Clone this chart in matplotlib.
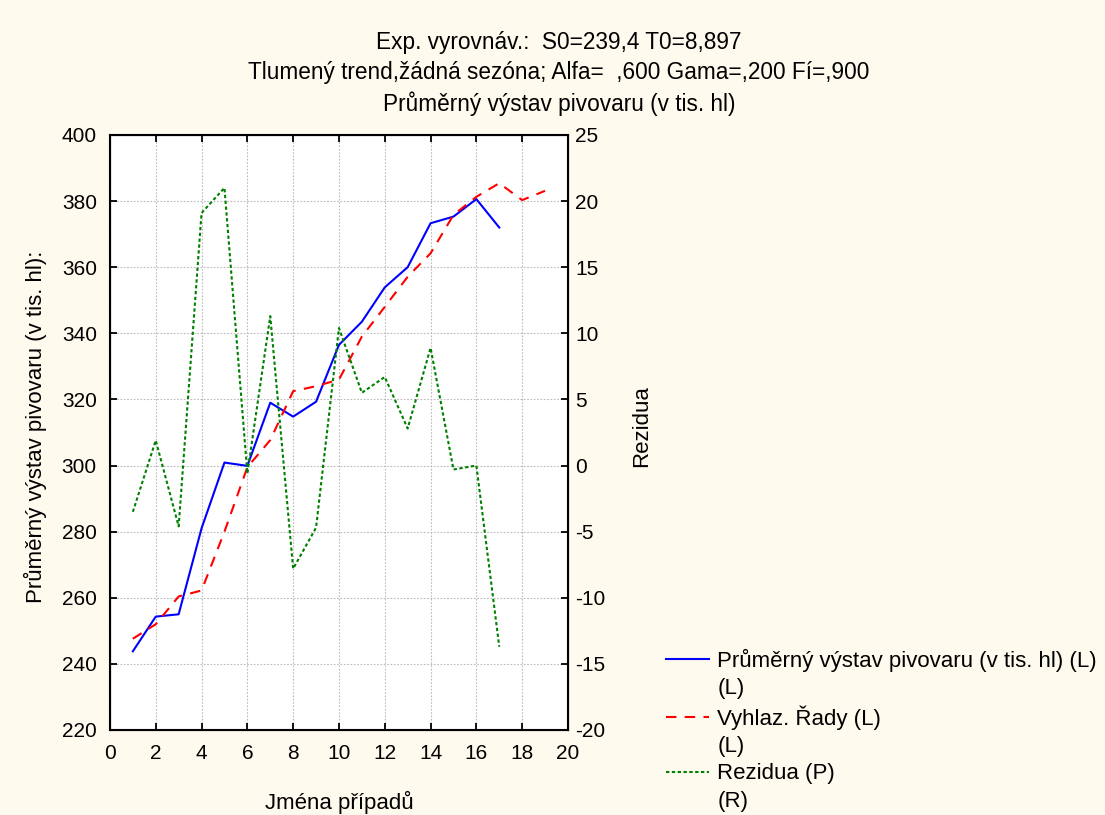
import matplotlib
matplotlib.use("Agg")
import matplotlib.pyplot as plt
from matplotlib.lines import Line2D

plt.rcParams['font.family'] = ['Liberation Sans', 'DejaVu Sans']
plt.rcParams['font.size'] = 16
plt.rcParams['axes.unicode_minus'] = False

# case numbers
cases = list(range(1, 20))

# observed series (left axis), cases 1..17
observed = [243.8, 254.3, 255.0, 281.0, 300.9, 299.9, 319.0, 314.8, 319.3,
            336.5, 343.5, 353.9, 360.0, 373.3, 375.3, 380.6, 372.0]

# smoothed series (left axis), cases 1..19
smoothed = [247.6, 252.0, 260.4, 262.2, 280.0, 299.5, 307.7, 322.5, 324.0,
            326.0, 339.0, 348.0, 357.1, 364.2, 375.8, 381.3, 385.4, 380.3, 383.1]

# residuals (right axis), cases 1..17
residuals = [-3.5, 1.9, -4.6, 19.1, 21.0, -0.6, 11.3, -7.8, -4.7,
             10.4, 5.5, 6.7, 2.8, 8.9, -0.3, 0.0, -13.7]

title_lines = ["Exp. vyrovnáv.:  S0=239,4 T0=8,897",
               "Tlumený trend,žádná sezóna; Alfa=  ,600 Gama=,200 Fí=,900",
               "Průměrný výstav pivovaru (v tis. hl)"]

bg = '#FFFAEE'
fig = plt.figure(figsize=(11.05, 8.15), dpi=100, facecolor=bg)
ax = fig.add_axes([0.0995, 0.1043, 0.4145, 0.7301])
ax.set_facecolor('white')

l1, = ax.plot(cases[:len(observed)], observed, color='#0000FF', lw=1.5)
l2, = ax.plot(cases, smoothed, color='#FF0000', lw=1.5, dashes=(5, 4))

ax.set_xlim(0, 20)
ax.set_ylim(220, 400)
ax.set_xticks(range(0, 21, 2))
ax.set_yticks(range(220, 401, 20))
ax.grid(True, color='#BBBBBB', ls=(0, (1.5, 1.5)), lw=0.8)
ax.tick_params(direction='in', length=5, width=1.3, top=True, pad=9.5,
               labelsize=15)
ax.tick_params(axis='x', pad=10)
for s in ax.spines.values():
    s.set_linewidth(1.5)

ax2 = ax.twinx()
l3, = ax2.plot(cases[:len(residuals)], residuals, color='#008000', lw=1.5,
               dashes=(1.6, 1.2))
ax2.set_ylim(-20, 25)
ax2.set_yticks(range(-20, 26, 5))
ax2.tick_params(direction='in', length=5, width=1.3, pad=5, labelsize=15)

ax.set_xlabel("Jména případů", labelpad=20)
ax.set_ylabel("Průměrný výstav pivovaru (v tis. hl):")
ax.yaxis.set_label_coords(-0.138, 0.51)
ax2.set_ylabel("Rezidua")
ax2.yaxis.set_label_coords(1.138, 0.51)

for i, line in enumerate(title_lines):
    fig.text(0.506, 0.948 - i * 0.0375, line, ha='center', va='center',
             fontsize=16.3)

# legend: second line of each label as a blank entry, like the original
blank = Line2D([], [], color='none')
handles = [l1, blank, l2, blank, l3, blank]
labels = ["Průměrný výstav pivovaru (v tis. hl) (L)", "(L)",
          "Vyhlaz. Řady (L)", "(L)", "Rezidua (P)", "(R)"]
fig.legend(handles, labels, loc='lower left', bbox_to_anchor=(0.603, 0.004),
           frameon=False, handlelength=1.9, handletextpad=0.4,
           labelspacing=0.285, borderaxespad=0, borderpad=0,
           prop={'size': 16})

fig.savefig("out.png", dpi=100, facecolor=bg)
